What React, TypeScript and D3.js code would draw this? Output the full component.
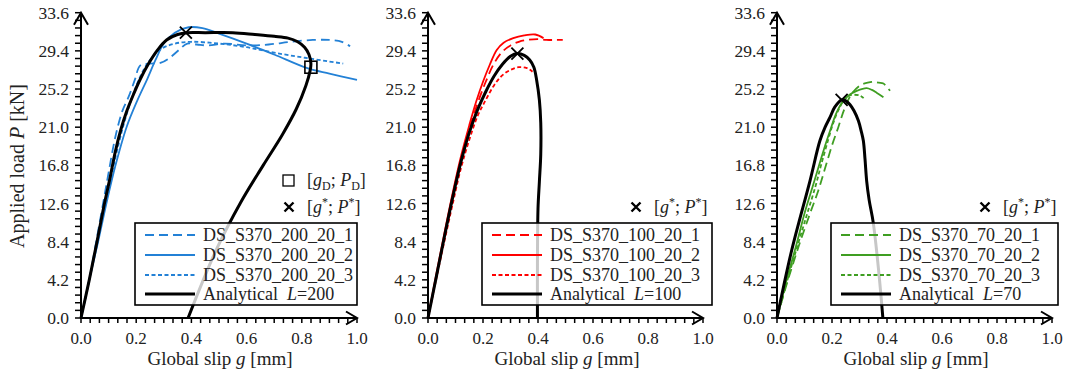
import * as d3 from "d3";

type Pt = [number, number];

const yTicks = [0, 4.2, 8.4, 12.6, 16.8, 21.0, 25.2, 29.4, 33.6];
const xTicks = [0, 0.2, 0.4, 0.6, 0.8, 1.0];

// L = 200 specimens (slip g [mm], load P [kN])
const ds200_1: Pt[] = [[0, 0], [0.03, 4.2], [0.055, 8.4], [0.08, 12.6], [0.1, 16.0], [0.125, 20.0], [0.15, 22.8], [0.172, 24.3], [0.195, 26.2], [0.215, 27.8], [0.25, 28.0], [0.29, 28.1], [0.32, 28.6], [0.355, 29.5], [0.385, 30.2], [0.42, 30.1], [0.46, 30.0], [0.52, 30.2], [0.6, 30.0], [0.68, 30.1], [0.76, 30.4], [0.84, 30.6], [0.9, 30.6], [0.945, 30.4], [0.975, 29.9]];
const ds200_2: Pt[] = [[0, 0], [0.03, 4.2], [0.062, 8.4], [0.092, 12.6], [0.125, 16.8], [0.165, 21.0], [0.205, 24.0], [0.24, 26.3], [0.27, 28.4], [0.3, 30.2], [0.34, 31.4], [0.39, 32.0], [0.44, 31.9], [0.5, 31.3], [0.6, 30.2], [0.7, 29.0], [0.82, 27.5], [0.9, 26.9], [1.0, 26.2]];
const ds200_3: Pt[] = [[0, 0], [0.03, 4.2], [0.058, 8.4], [0.087, 12.6], [0.118, 16.8], [0.152, 21.0], [0.182, 24.0], [0.212, 26.4], [0.245, 28.2], [0.29, 29.6], [0.34, 30.2], [0.4, 30.4], [0.5, 30.2], [0.6, 29.8], [0.7, 29.2], [0.82, 28.6], [0.95, 28.0]];
const an200: Pt[] = [[0, 0], [0.03, 4.2], [0.058, 8.4], [0.085, 12.6], [0.105, 15.4], [0.125, 18.4], [0.145, 20.8], [0.165, 22.7], [0.19, 24.6], [0.215, 26.3], [0.245, 28.0], [0.275, 29.4], [0.31, 30.6], [0.35, 31.2], [0.385, 31.4], [0.45, 31.4], [0.55, 31.4], [0.63, 31.2], [0.7, 31.0], [0.75, 30.8], [0.785, 30.4], [0.81, 29.8], [0.826, 29.0], [0.833, 28.0], [0.83, 27.2], [0.815, 25.6], [0.78, 23.0], [0.73, 20.2], [0.66, 16.8], [0.58, 12.8], [0.49, 7.5], [0.388, 0]];

// L = 100 specimens
const ds100_1: Pt[] = [[0, 0], [0.03, 4.5], [0.06, 9.0], [0.09, 13.2], [0.12, 17.2], [0.15, 20.8], [0.18, 23.6], [0.21, 26.0], [0.24, 28.0], [0.27, 29.3], [0.3, 30.0], [0.33, 30.4], [0.36, 30.6], [0.4, 30.7], [0.43, 30.6], [0.46, 30.6], [0.49, 30.6]];
const ds100_2: Pt[] = [[0, 0], [0.03, 4.8], [0.06, 9.4], [0.09, 13.8], [0.12, 17.8], [0.15, 21.2], [0.175, 23.8], [0.2, 26.0], [0.225, 27.9], [0.25, 29.5], [0.275, 30.3], [0.31, 30.8], [0.35, 31.1], [0.39, 31.2], [0.42, 30.8]];
const ds100_3: Pt[] = [[0, 0], [0.03, 4.3], [0.06, 8.5], [0.09, 12.6], [0.12, 16.5], [0.15, 19.6], [0.18, 22.2], [0.21, 24.0], [0.24, 25.6], [0.27, 26.7], [0.3, 27.3], [0.33, 27.6], [0.36, 27.5], [0.38, 27.1]];
const an100: Pt[] = [[0, 0], [0.03, 4.5], [0.06, 9.0], [0.09, 13.3], [0.12, 17.2], [0.15, 20.4], [0.18, 22.9], [0.21, 24.9], [0.24, 26.6], [0.27, 27.9], [0.3, 28.8], [0.325, 29.1], [0.35, 28.9], [0.37, 28.4], [0.385, 27.6], [0.395, 26.2], [0.405, 24.0], [0.41, 21.5], [0.41, 18.0], [0.405, 15.0], [0.4, 12.0], [0.398, 6.0], [0.398, 0]];

// L = 70 specimens
const ds70_1: Pt[] = [[0, 0], [0.04, 4.2], [0.08, 8.0], [0.12, 11.5], [0.15, 14.0], [0.175, 16.5], [0.2, 19.0], [0.223, 21.0], [0.245, 23.0], [0.27, 24.6], [0.302, 25.6], [0.33, 25.9], [0.35, 26.0], [0.37, 25.9], [0.387, 25.8], [0.411, 25.0]];
const ds70_2: Pt[] = [[0, 0], [0.035, 4.2], [0.07, 8.0], [0.1, 11.5], [0.13, 14.5], [0.15, 16.5], [0.17, 18.5], [0.193, 20.6], [0.215, 22.5], [0.241, 23.9], [0.265, 24.6], [0.29, 25.0], [0.326, 25.3], [0.345, 25.1], [0.362, 24.8], [0.387, 24.3]];
const ds70_3: Pt[] = [[0, 0], [0.038, 4.2], [0.075, 8.0], [0.11, 11.5], [0.14, 14.5], [0.16, 16.8], [0.185, 19.5], [0.205, 21.5], [0.225, 23.0], [0.245, 24.0], [0.265, 24.5], [0.3, 24.5], [0.315, 24.2]];
const an70: Pt[] = [[0, 0], [0.053, 7.4], [0.12, 15.1], [0.156, 19.5], [0.175, 21.0], [0.193, 22.1], [0.21, 23.2], [0.235, 24.0], [0.25, 23.9], [0.265, 23.5], [0.28, 22.8], [0.296, 21.7], [0.306, 20.6], [0.314, 19.5], [0.32, 17.5], [0.326, 15.1], [0.335, 13.0], [0.35, 10.5], [0.369, 5.4], [0.385, 0]];

const peak200: Pt = [0.38, 31.4];
const peak100: Pt = [0.325, 29.1];
const peak70: Pt = [0.235, 24.0];
const debond200: Pt = [0.833, 27.6];

const labels200 = ["DS_S370_200_20_1", "DS_S370_200_20_2", "DS_S370_200_20_3"];
const labels100 = ["DS_S370_100_20_1", "DS_S370_100_20_2", "DS_S370_100_20_3"];
const labels70 = ["DS_S370_70_20_1", "DS_S370_70_20_2", "DS_S370_70_20_3"];

const FONT = "Liberation Serif, DejaVu Serif, serif";
const dashes = ["9,5", null, "4,2.5"];

const panels = [
  { x0: 81, w: 276, color: "#2381d6", series: [ds200_1, ds200_2, ds200_3], an: an200, L: "200", peak: peak200, dpt: debond200, labels: labels200, boxW: 222 },
  { x0: 428, w: 275, color: "#ff0000", series: [ds100_1, ds100_2, ds100_3], an: an100, L: "100", peak: peak100, dpt: null, labels: labels100, boxW: 230 },
  { x0: 777, w: 275, color: "#3f9e22", series: [ds70_1, ds70_2, ds70_3], an: an70, L: "70", peak: peak70, dpt: null, labels: labels70, boxW: 227 },
];

const yTop = 12.7;
const yBottom = 318;
const txt = { fontFamily: FONT, fill: "#222" };

function Cross({ cx, cy, s, w }: { cx: number; cy: number; s: number; w: number }) {
  return (
    <path d={`M${cx - s},${cy - s}L${cx + s},${cy + s}M${cx - s},${cy + s}L${cx + s},${cy - s}`} stroke="#000" strokeWidth={w} fill="none" />
  );
}

function Panel({ p }: { p: (typeof panels)[number] }) {
  const x = d3.scaleLinear().domain([0, 1]).range([p.x0, p.x0 + p.w]);
  const y = d3.scaleLinear().domain([0, 33.6]).range([yBottom, yTop]);
  const line = d3
    .line<Pt>()
    .x((d) => x(d[0]))
    .y((d) => y(d[1]))
    .curve(d3.curveCatmullRom.alpha(0.5));

  const yMinor = d3.range(0, 33.6 + 1e-6, 0.84);
  const xMinor = d3.range(0, 1 + 1e-6, 1 / 30);
  const bx = p.x0 + 54;
  const by = 223;
  const rows = [235, 255, 275, 294];

  return (
    <g>
      {/* curves */}
      {p.series.map((s, i) => (
        <path key={i} d={line(s) ?? ""} fill="none" stroke={p.color} strokeWidth={1.8} strokeDasharray={dashes[i] ?? undefined} />
      ))}
      <path d={line(p.an) ?? ""} fill="none" stroke="#000" strokeWidth={3} strokeLinejoin="round" />
      <Cross cx={x(p.peak[0])} cy={y(p.peak[1])} s={6} w={1.8} />
      {p.dpt && <rect x={x(p.dpt[0]) - 6} y={y(p.dpt[1]) - 6} width={12} height={12} fill="none" stroke="#000" strokeWidth={1.6} />}

      {/* axes */}
      {yMinor.map((v, i) => (
        <line key={"ym" + i} x1={p.x0 - 6} x2={p.x0} y1={y(v)} y2={y(v)} stroke="#000" strokeWidth={1.5} />
      ))}
      {xMinor.map((v, i) => (
        <line key={"xm" + i} x1={x(v)} x2={x(v)} y1={yBottom} y2={yBottom + 5} stroke="#000" strokeWidth={1.5} />
      ))}
      <line x1={p.x0} x2={p.x0} y1={yBottom + 1} y2={yTop} stroke="#000" strokeWidth={2} />
      <line x1={p.x0 - 1} x2={p.x0 + p.w} y1={yBottom} y2={yBottom} stroke="#000" strokeWidth={2} />
      <path d={`M${p.x0 - 7},${yTop + 12}L${p.x0},${yTop}L${p.x0 + 7},${yTop + 12}`} fill="none" stroke="#000" strokeWidth={2} />
      <path d={`M${p.x0 + p.w - 11},${yBottom - 6.5}L${p.x0 + p.w},${yBottom}L${p.x0 + p.w - 11},${yBottom + 6.5}`} fill="none" stroke="#000" strokeWidth={2} />
      {yTicks.map((v) => (
        <text key={"yt" + v} x={p.x0 - 12} y={y(v)} textAnchor="end" dominantBaseline="central" fontSize={17.5} style={txt}>
          {v.toFixed(1)}
        </text>
      ))}
      {xTicks.map((v) => (
        <text key={"xt" + v} x={x(v)} y={338} textAnchor="middle" dominantBaseline="central" fontSize={17} style={txt}>
          {v.toFixed(1)}
        </text>
      ))}
      <text x={p.x0 + 139} y={365} textAnchor="middle" fontSize={19} style={txt}>
        Global slip <tspan fontStyle="italic">g</tspan> [mm]
      </text>

      {/* marker notes */}
      {p.dpt && (
        <g>
          <rect x={p.x0 + 202} y={175} width={11} height={11} fill="none" stroke="#000" strokeWidth={1.3} />
          <text x={p.x0 + 226} y={186} fontSize={18} style={txt}>
            [<tspan fontStyle="italic">g</tspan><tspan dy={4} fontSize={12}>D</tspan><tspan dy={-4}>; </tspan><tspan fontStyle="italic">P</tspan><tspan dy={4} fontSize={12}>D</tspan><tspan dy={-4}>]</tspan>
          </text>
        </g>
      )}
      <Cross cx={p.x0 + 208} cy={207} s={4.5} w={2.4} />
      <text x={p.x0 + 226} y={213} fontSize={18} style={txt}>
        [<tspan fontStyle="italic">g</tspan><tspan dy={-7} fontSize={12}>*</tspan><tspan dy={7}>; </tspan><tspan fontStyle="italic">P</tspan><tspan dy={-7} fontSize={12}>*</tspan><tspan dy={7}>]</tspan>
      </text>

      {/* legend */}
      <rect x={bx} y={by} width={p.boxW} height={82} fill="#fff" fillOpacity={0.78} stroke="#000" strokeWidth={1.6} />
      {p.labels.map((lab, i) => (
        <g key={lab}>
          <line x1={bx + 10} x2={bx + 60} y1={rows[i]} y2={rows[i]} stroke={p.color} strokeWidth={1.8} strokeDasharray={dashes[i] ?? undefined} />
          <text x={bx + 68} y={rows[i]} dominantBaseline="central" fontSize={18} style={txt}>
            {lab}
          </text>
        </g>
      ))}
      <line x1={bx + 10} x2={bx + 60} y1={rows[3]} y2={rows[3]} stroke="#000" strokeWidth={3} />
      <text x={bx + 68} y={rows[3]} dominantBaseline="central" fontSize={18} style={txt}>
        Analytical{"\u00a0\u00a0"}<tspan fontStyle="italic">L</tspan>={p.L}
      </text>
    </g>
  );
}

export default function App() {
  return (
    <svg width={1071} height={370} viewBox="0 0 1071 370" style={{ display: "block", position: "absolute", left: 0, top: 0, background: "#fff" }}>
      <rect width={1071} height={370} fill="#fff" />
      {panels.map((p, i) => (
        <Panel key={i} p={p} />
      ))}
      <text transform="translate(24,166) rotate(-90)" textAnchor="middle" fontSize={20} style={txt}>
        Applied load <tspan fontStyle="italic">P</tspan> [kN]
      </text>
    </svg>
  );
}
